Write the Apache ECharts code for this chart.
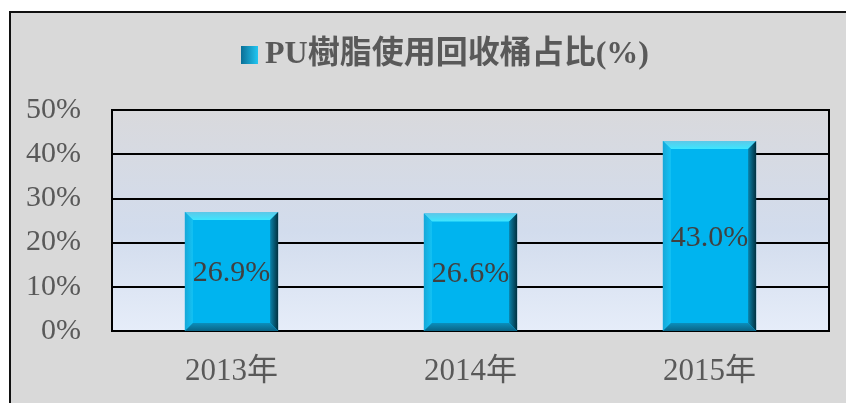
<!DOCTYPE html>
<html><head><meta charset="utf-8">
<script src="https://cdn.jsdelivr.net/npm/echarts@6/dist/echarts.min.js"></script>
<style>html,body{margin:0;padding:0;background:#fff}#c{width:846px;height:403px}</style>
</head><body><div id="c"></div>
<script>
const categories = ['2013年', '2014年', '2015年'];
const values = [26.9, 26.6, 43.0];
const seriesName = 'PU樹脂使用回收桶占比(%)';
const yTicks = { min: 0, max: 50, interval: 10 };

const serif = '"Liberation Serif", "Times New Roman", "Noto Sans CJK TC", serif';
const chart = echarts.init(document.getElementById('c'), null, { renderer: 'canvas' });

function lg(x1, y1, x2, y2, c1, c2) {
  return new echarts.graphic.LinearGradient(x1, y1, x2, y2, [{ offset: 0, color: c1 }, { offset: 1, color: c2 }]);
}

chart.setOption({
  backgroundColor: '#ffffff',
  animation: false,
  graphic: [{
    type: 'rect', z: -10, silent: true,
    shape: { x: 10, y: 12, width: 900, height: 500 },
    style: { fill: '#d9d9d9', stroke: '#111', lineWidth: 2 }
  }],
  legend: {
    left: 236, top: 34,
    itemWidth: 17, itemHeight: 18, itemGap: 10,
    textStyle: { fontFamily: serif, fontSize: 32, fontWeight: 'bold', color: '#595959', padding: [0, 0, 0, 2] },
    data: [{ name: seriesName, icon: 'rect', itemStyle: { color: lg(0, 0, 1, 0, '#0a6f96', '#22c6f2') } }]
  },
  grid: {
    left: 112, right: 17, top: 110, bottom: 72,
    show: true, borderColor: '#000', borderWidth: 2,
    backgroundColor: new echarts.graphic.LinearGradient(0, 0, 0, 1, [
      { offset: 0, color: '#d9d9dc' },
      { offset: 0.55, color: '#d2dced' },
      { offset: 1, color: '#e6edf9' }
    ])
  },
  xAxis: {
    type: 'category', data: categories,
    axisLine: { lineStyle: { color: '#000', width: 2 } },
    axisTick: { show: false },
    axisLabel: { fontFamily: serif, fontSize: 31, color: '#595959', margin: 25 }
  },
  yAxis: {
    type: 'value', min: yTicks.min, max: yTicks.max, interval: yTicks.interval,
    axisLine: { show: false }, axisTick: { show: false },
    splitLine: { lineStyle: { color: '#000', width: 2 } },
    axisLabel: { fontFamily: serif, fontSize: 30, color: '#595959', margin: 31, formatter: '{value}%' }
  },
  series: [{
    name: seriesName,
    type: 'custom',
    data: values.map((v, i) => [i, v]),
    encode: { x: 0, y: 1 },
    renderItem: function (params, api) {
      const xi = api.value(0), v = api.value(1);
      const tp = api.coord([xi, v]);
      const bp = api.coord([xi, 0]);
      const w = api.size([1, 0])[0] * 0.39;
      const l = tp[0] - w / 2, r = tp[0] + w / 2, t = tp[1], b = bp[1];
      const bv = 8;
      return {
        type: 'group',
        children: [
          { type: 'rect', shape: { x: l, y: t, width: w, height: b - t }, style: { fill: '#00b4ef' } },
          { type: 'polygon', shape: { points: [[l, t], [r, t], [r - bv, t + bv], [l + bv, t + bv]] },
            style: { fill: lg(0, 0, 0, 1, '#5cc8e8', '#3ee6ff') } },
          { type: 'polygon', shape: { points: [[l, t], [l + bv, t + bv], [l + bv, b - bv], [l, b]] },
            style: { fill: lg(0, 0, 1, 0, '#16a8d8', '#14c2f4') } },
          { type: 'polygon', shape: { points: [[r, t], [r, b], [r - bv, b - bv], [r - bv, t + bv]] },
            style: { fill: lg(1, 0, 0, 0, '#02303f', '#0a82aa') } },
          { type: 'polygon', shape: { points: [[l, b], [l + bv, b - bv], [r - bv, b - bv], [r, b]] },
            style: { fill: lg(0, 0, 0, 1, '#0b8fbc', '#0a6384') } },
          { type: 'text', style: {
              text: v.toFixed(1) + '%', x: tp[0], y: (t + b) / 2 + 2,
              align: 'center', verticalAlign: 'middle',
              font: '30px ' + serif, fill: '#404040' } }
        ]
      };
    }
  }]
});
</script></body></html>
